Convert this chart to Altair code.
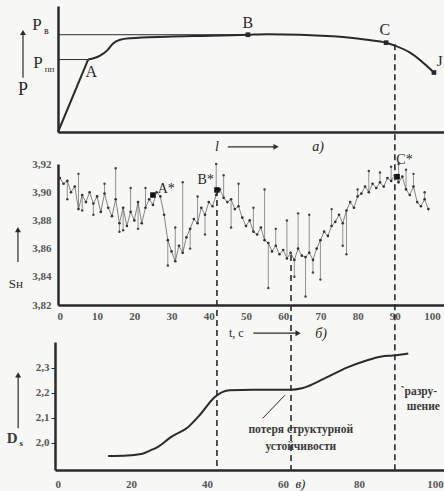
import altair as alt
import pandas as pd

FONT = "Liberation Serif"
INK = "#2a2a2a"
GREY = "#555555"

# ---------------- panel a) : P vs l ----------------
# straight loading branch O -> A, then the curved branch A -> J
a_l = [0, 7.8, 10.9, 12.7, 14.2, 16.1, 18.7, 28.2, 39.4, 49.2, 54.1, 71.2, 80.0, 85.0, 87.3, 91.2, 97.4]
a_p = [0, 57.5, 60.6, 64.6, 70.1, 73.2, 74.4, 75.6, 76.4, 77.2, 77.6, 76.0, 73.2, 70.9, 68.5, 63.0, 47.2]
level_p = [77.2, 57.5]          # P_в, P_пп
level_end = [49.2, 7.8]         # up to B and A
dots_a_l = [49.2, 85.0, 97.4]   # B, C, J
dots_a_p = [77.2, 70.9, 47.2]

# ---------------- panel б) : Sн vs t ----------------
s_t = list(range(0, 100))
s_vals = [3.910, 3.906, 3.908, 3.900, 3.904, 3.888, 3.898, 3.893, 3.900, 3.892,
          3.897, 3.886, 3.899, 3.889, 3.883, 3.895, 3.878, 3.889, 3.876, 3.886,
          3.880, 3.893, 3.878, 3.889, 3.895, 3.891, 3.900, 3.897, 3.884, 3.866,
          3.858, 3.851, 3.862, 3.857, 3.868, 3.874, 3.881, 3.878, 3.889, 3.884,
          3.893, 3.890, 3.898, 3.902, 3.896, 3.893, 3.895, 3.888, 3.890, 3.882,
          3.876, 3.880, 3.872, 3.870, 3.875, 3.866, 3.864, 3.858, 3.862, 3.856,
          3.859, 3.853, 3.857, 3.852, 3.860, 3.855, 3.854, 3.857, 3.852, 3.860,
          3.866, 3.872, 3.869, 3.876, 3.879, 3.884, 3.878, 3.887, 3.893, 3.889,
          3.897, 3.899, 3.904, 3.900, 3.906, 3.903, 3.907, 3.904, 3.910, 3.908,
          3.912, 3.907, 3.911, 3.902, 3.898, 3.904, 3.893, 3.890, 3.895, 3.888]
spike_t = [2, 5, 6, 9, 12, 15, 16, 17, 19, 21, 23, 29, 31, 33, 35, 37, 39, 42, 44, 46, 48,
           52, 55, 56, 58, 61, 63, 64, 66, 67, 68, 70, 73, 76, 77, 80, 83, 86, 89, 91, 93, 95, 98]
spike_end = [3.895, 3.913, 3.887, 3.884, 3.906, 3.917, 3.872, 3.873, 3.903, 3.874, 3.903,
             3.848, 3.875, 3.907, 3.860, 3.897, 3.870, 3.920, 3.912, 3.875, 3.906,
             3.889, 3.902, 3.832, 3.874, 3.880, 3.840, 3.885, 3.826, 3.884, 3.843,
             3.838, 3.888, 3.862, 3.856, 3.902, 3.915, 3.914, 3.918, 3.920, 3.916, 3.913, 3.900]
key_t = [25, 42.2, 90.6]        # A*, B*, C*
key_s = [3.898, 3.9016, 3.911]

# dashed markers (drawn in б units, spanning the panels)
mark_t = [42.2, 62.1, 90.0]
mark_top = [3.9016, 3.8555, 4.005]
mark_bottom = [3.703, 3.703, 3.703]

# ---------------- panel в) : Ds vs t ----------------
d_t = [14, 19, 23, 25, 27, 30.5, 35, 38.5, 42, 46, 52, 57, 62, 65, 71, 77, 82, 86, 89, 93]
d_vals = [1.946, 1.948, 1.955, 1.968, 1.982, 2.022, 2.062, 2.118, 2.182, 2.21, 2.212, 2.212,
          2.212, 2.218, 2.258, 2.302, 2.33, 2.346, 2.35, 2.358]

W, H = 386, 491

def base_axis(**kw):
    d = dict(grid=False, title=None, domainColor=INK, domainWidth=2.5,
             labelFont=FONT, labelFontSize=11, labelFontWeight="bold", labelColor=GREY)
    d.update(kw)
    return alt.Axis(**d)

scales = {
    "a": (alt.Scale(domain=[0, 100], range=[0, W], nice=False, zero=False),
          alt.Scale(domain=[0, 100], range=[132, 6], nice=False, zero=False),
          base_axis(orient="bottom", offset=132 - H, labels=False, ticks=False),
          base_axis(orient="left", labels=False, ticks=False)),
    "b": (alt.Scale(domain=[-0.5, 103.2], range=[0, W], nice=False, zero=False),
          alt.Scale(domain=[3.82, 3.92], range=[305, 164], nice=False, zero=False),
          base_axis(orient="bottom", offset=305 - H, ticks=False, labelPadding=5,
                    values=[0, 10, 20, 30, 40, 50, 60, 70, 80, 90, 100]),
          base_axis(orient="left", ticks=False, labelPadding=7,
                    values=[3.82, 3.84, 3.86, 3.88, 3.90, 3.92],
                    labelExpr="replace(format(datum.value, '.2f'), '.', ',')")),
    "c": (alt.Scale(domain=[0, 102.4], range=[-3, W], nice=False, zero=False),
          alt.Scale(domain=[1.89, 2.404], range=[470, 342], nice=False, zero=False),
          base_axis(orient="bottom", offset=470 - H, ticks=False, labelPadding=8,
                    values=[0, 20, 40, 60, 80, 100]),
          base_axis(orient="left", offset=3, ticks=True, tickSize=4, tickColor=INK,
                    labelPadding=2, values=[2.0, 2.1, 2.2, 2.3],
                    labelExpr="replace(format(datum.value, '.1f'), '.', ',')")),
}

def X(p, f="x"):
    return alt.X(f"{f}:Q", scale=scales[p][0], axis=scales[p][2])

def Y(p, f="y"):
    return alt.Y(f"{f}:Q", scale=scales[p][1], axis=scales[p][3])

def text_layer(p, rows, align="center", style="normal", weight="normal", color=INK):
    df = pd.DataFrame(rows, columns=["x", "y", "t", "fs"])
    return alt.Chart(df).mark_text(align=align, baseline="middle", font=FONT,
                                   fontStyle=style, fontWeight=weight, color=color).encode(
        x=X(p), y=Y(p), text="t:N", size=alt.Size("fs:Q", scale=None))

def vrule(p, x, y1, y2, head=True, width=1.2):
    df = pd.DataFrame({"x": [x], "y": [y1], "y2": [y2]})
    r = alt.Chart(df).mark_rule(color=INK, strokeWidth=width).encode(x=X(p), y=Y(p), y2="y2:Q")
    if not head:
        return r
    h = alt.Chart(pd.DataFrame({"x": [x], "y": [y2]})).mark_point(
        shape="triangle-up", filled=True, size=35, color=INK, opacity=1).encode(x=X(p), y=Y(p))
    return r + h

def hrule(p, x1, x2, y):
    df = pd.DataFrame({"x": [x1], "x2": [x2], "y": [y]})
    r = alt.Chart(df).mark_rule(color=INK, strokeWidth=1.2).encode(x=X(p), x2="x2:Q", y=Y(p))
    h = alt.Chart(pd.DataFrame({"x": [x2], "y": [y]})).mark_point(
        shape="triangle-right", filled=True, size=35, color=INK, opacity=1).encode(x=X(p), y=Y(p))
    return r + h

# ---- panel a layers
df_a = pd.DataFrame({"x": a_l, "y": a_p})
straight_a = alt.Chart(df_a.iloc[:2]).mark_line(color=INK, strokeWidth=2).encode(x=X("a"), y=Y("a"))
curve_a = alt.Chart(df_a.iloc[1:]).mark_line(color=INK, strokeWidth=2, interpolate="monotone").encode(x=X("a"), y=Y("a"))
df_lv = pd.DataFrame({"x": [0, 0], "x2": level_end, "y": level_p})
levels_a = alt.Chart(df_lv).mark_rule(color=INK, strokeWidth=1).encode(x=X("a"), x2="x2:Q", y=Y("a"))
dots_a = alt.Chart(pd.DataFrame({"x": dots_a_l, "y": dots_a_p})).mark_square(
    color=INK, size=22, opacity=1).encode(x=X("a"), y=Y("a"))
txt_a = text_layer("a", [
    [-9.07, 33.0, "P", 18], [-5.44, 85.0, "P", 17], [-3.0, 80.5, "в", 10],
    [-5.18, 55.1, "P", 17], [-2.2, 50.0, "пп", 9],
    [8.6, 47.5, "A", 16], [49.2, 86.6, "B", 16], [84.7, 81.1, "C", 16], [98.9, 56.7, "J", 15]])
txt_a_it = text_layer("a", [[41.2, -11.8, "l", 14], [67.4, -11.8, "a)", 14]], style="italic")
panel_a = alt.layer(straight_a, curve_a, levels_a, dots_a, txt_a, txt_a_it,
                    vrule("a", -9.07, 43.0, 79.0), hrule("a", 44.0, 56.5, -11.8))

# ---- panel б layers
df_s = pd.DataFrame({"x": s_t, "y": s_vals})
line_s = alt.Chart(df_s).mark_line(color="#666666", strokeWidth=0.8).encode(x=X("b"), y=Y("b"))
pts_s = alt.Chart(df_s).mark_circle(color="#333333", size=7, opacity=1).encode(x=X("b"), y=Y("b"))
base_lookup = dict(zip(s_t, s_vals))
df_sp = pd.DataFrame({"x": spike_t, "y": [base_lookup[t] for t in spike_t], "y2": spike_end})
spikes = alt.Chart(df_sp).mark_rule(color="#777777", strokeWidth=0.8).encode(x=X("b"), y=Y("b"), y2="y2:Q")
spike_tips = alt.Chart(df_sp).mark_circle(color="#444444", size=6, opacity=1).encode(x=X("b"), y=Y("b", "y2"))
keys = alt.Chart(pd.DataFrame({"x": key_t, "y": key_s})).mark_square(
    color="#111111", size=30, opacity=1).encode(x=X("b"), y=Y("b"))
df_mk = pd.DataFrame({"x": mark_t, "y": mark_top, "y2": mark_bottom})
markers = alt.Chart(df_mk).mark_rule(color=INK, strokeWidth=1.6, strokeDash=[6, 4]).encode(
    x=X("b"), y=Y("b"), y2="y2:Q")
txt_b = text_layer("b", [
    [28.6, 3.9023, "A*", 14], [39.2, 3.9085, "B*", 14], [92.6, 3.9228, "C*", 14],
    [-11.8, 3.8349, "Sн", 13], [47.4, 3.8, "t, c", 12]])
txt_b_it = text_layer("b", [[70.2, 3.7995, "б)", 14]], style="italic")
panel_b = alt.layer(spikes, line_s, pts_s, spike_tips, keys, markers, txt_b, txt_b_it,
                    vrule("b", -11.26, 3.8505, 3.8735), hrule("b", 52.0, 64.0, 3.8))

# ---- panel в layers
df_d = pd.DataFrame({"x": d_t, "y": d_vals})
curve_d = alt.Chart(df_d).mark_line(color=INK, strokeWidth=2, interpolate="monotone").encode(x=X("c"), y=Y("c"))
leader = alt.Chart(pd.DataFrame({"x": [54.7], "x2": [60.5], "y": [2.098], "y2": [2.19]})).mark_rule(
    color=INK, strokeWidth=1).encode(x=X("c"), x2="x2:Q", y=Y("c"), y2="y2:Q")
txt_c = text_layer("c", [
    [-11.3, 2.018, "D", 15], [-8.9, 2.0, "s", 9],
    [64.7, 2.05, "потеря структурной", 11.5], [64.7, 1.982, "устойчивости", 11.5]], weight="bold", color="#3a3a3a")
txt_c_left = text_layer("c", [[91.0, 2.202, "`разру-", 11.5], [92.6, 2.142, "шение", 11.5]],
                        align="left", weight="bold", color="#3a3a3a")
txt_c_it = text_layer("c", [[64.6, 1.834, "в)", 13]], style="italic")
panel_c = alt.layer(curve_d, leader, txt_c, txt_c_left, txt_c_it, vrule("c", -9.7, 2.058, 2.272))

chart = alt.layer(panel_a, panel_b, panel_c).resolve_scale(
    x="independent", y="independent").resolve_axis(
    x="independent", y="independent").properties(
    width=W, height=H,
    autosize=alt.AutoSizeParams(type="none"),
    padding={"left": 58, "top": 0, "right": 0, "bottom": 0},
    background="#f7f7f5",
).configure_view(stroke=None)

chart.save("out.html", embed_options={"renderer": "svg", "actions": False})
